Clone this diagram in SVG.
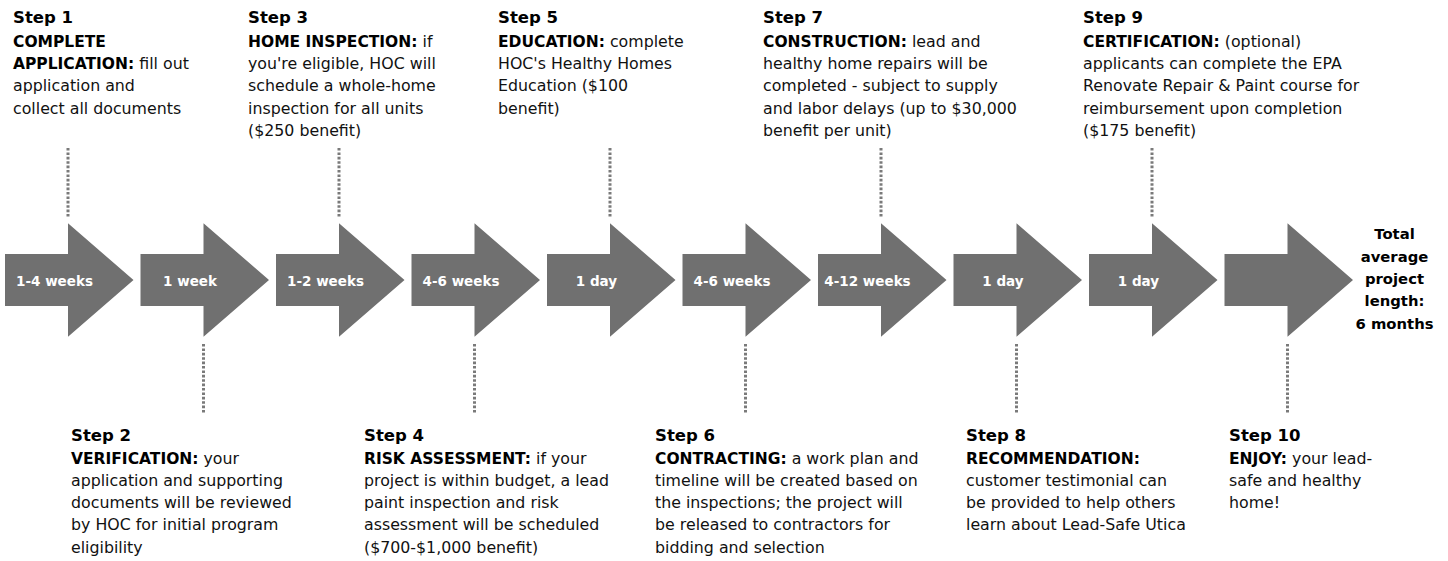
<svg xmlns="http://www.w3.org/2000/svg" width="1448" height="561" viewBox="0 0 1448 561">
<style>
.bg{fill:#ffffff}
.arr{fill:#707070}
.lbl{font-family:"DejaVu Sans",sans-serif;font-weight:bold;font-size:13.5px;fill:#ffffff;text-anchor:middle}
.tot{font-family:"DejaVu Sans",sans-serif;font-weight:bold;font-size:14.8px;fill:#000000;text-anchor:middle}
.ttl{font-family:"DejaVu Sans",sans-serif;font-weight:bold;font-size:16.5px;fill:#000000}
.txt{font-family:"DejaVu Sans",sans-serif;font-size:15.8px;fill:#111111}
.b{font-weight:bold;font-size:15.5px;fill:#000000}
.dot{stroke:#7a7a7a;stroke-width:3;stroke-dasharray:2.6 1.8;fill:none}
</style>
<rect class="bg" x="0" y="0" width="1448" height="561"/>
<g id="connectors">
<line class="dot" x1="68" y1="148" x2="68" y2="218"/>
<line class="dot" x1="339" y1="148" x2="339" y2="218"/>
<line class="dot" x1="610" y1="148" x2="610" y2="218"/>
<line class="dot" x1="881" y1="148" x2="881" y2="218"/>
<line class="dot" x1="1152" y1="148" x2="1152" y2="218"/>
<line class="dot" x1="203.5" y1="344" x2="203.5" y2="413"/>
<line class="dot" x1="474.5" y1="344" x2="474.5" y2="413"/>
<line class="dot" x1="745.5" y1="344" x2="745.5" y2="413"/>
<line class="dot" x1="1016.5" y1="344" x2="1016.5" y2="413"/>
<line class="dot" x1="1287.5" y1="344" x2="1287.5" y2="413"/>
</g>
<g id="arrow1"><path class="arr" d="M5,254 H68 V223.3 L133.5,280 L68,336.7 V306 H5 Z"/><text class="lbl" x="54.5" y="285.5">1-4 weeks</text></g>
<g id="arrow2"><path class="arr" d="M140.5,254 H203.5 V223.3 L269,280 L203.5,336.7 V306 H140.5 Z"/><text class="lbl" x="190" y="285.5">1 week</text></g>
<g id="arrow3"><path class="arr" d="M276,254 H339 V223.3 L404.5,280 L339,336.7 V306 H276 Z"/><text class="lbl" x="325.5" y="285.5">1-2 weeks</text></g>
<g id="arrow4"><path class="arr" d="M411.5,254 H474.5 V223.3 L540,280 L474.5,336.7 V306 H411.5 Z"/><text class="lbl" x="461" y="285.5">4-6 weeks</text></g>
<g id="arrow5"><path class="arr" d="M547,254 H610 V223.3 L675.5,280 L610,336.7 V306 H547 Z"/><text class="lbl" x="596.5" y="285.5">1 day</text></g>
<g id="arrow6"><path class="arr" d="M682.5,254 H745.5 V223.3 L811,280 L745.5,336.7 V306 H682.5 Z"/><text class="lbl" x="732" y="285.5">4-6 weeks</text></g>
<g id="arrow7"><path class="arr" d="M818,254 H881 V223.3 L946.5,280 L881,336.7 V306 H818 Z"/><text class="lbl" x="867.5" y="285.5">4-12 weeks</text></g>
<g id="arrow8"><path class="arr" d="M953.5,254 H1016.5 V223.3 L1082,280 L1016.5,336.7 V306 H953.5 Z"/><text class="lbl" x="1003" y="285.5">1 day</text></g>
<g id="arrow9"><path class="arr" d="M1089,254 H1152 V223.3 L1217.5,280 L1152,336.7 V306 H1089 Z"/><text class="lbl" x="1138.5" y="285.5">1 day</text></g>
<g id="arrow10"><path class="arr" d="M1224.5,254 H1287.5 V223.3 L1353,280 L1287.5,336.7 V306 H1224.5 Z"/></g>
<g id="total">
<text class="tot" x="1394.5" y="239">Total</text>
<text class="tot" x="1394.5" y="261.5">average</text>
<text class="tot" x="1394.5" y="284">project</text>
<text class="tot" x="1394.5" y="306">length:</text>
<text class="tot" x="1394.5" y="328.5">6 months</text>
</g>
<g id="step1">
<text class="ttl" x="13" y="23">Step 1</text>
<text class="txt" x="13" y="46.5"><tspan class="b">COMPLETE</tspan></text>
<text class="txt" x="13" y="69"><tspan class="b">APPLICATION:</tspan> fill out</text>
<text class="txt" x="13" y="91.3">application and</text>
<text class="txt" x="13" y="113.6">collect all documents</text>
</g>
<g id="step3">
<text class="ttl" x="248" y="23">Step 3</text>
<text class="txt" x="248" y="46.5"><tspan class="b">HOME INSPECTION:</tspan> if</text>
<text class="txt" x="248" y="69">you're eligible, HOC will</text>
<text class="txt" x="248" y="91.3">schedule a whole-home</text>
<text class="txt" x="248" y="113.6">inspection for all units</text>
<text class="txt" x="248" y="135.9">($250 benefit)</text>
</g>
<g id="step5">
<text class="ttl" x="498" y="23">Step 5</text>
<text class="txt" x="498" y="46.5"><tspan class="b">EDUCATION:</tspan> complete</text>
<text class="txt" x="498" y="69">HOC's Healthy Homes</text>
<text class="txt" x="498" y="91.3">Education ($100</text>
<text class="txt" x="498" y="113.6">benefit)</text>
</g>
<g id="step7">
<text class="ttl" x="763" y="23">Step 7</text>
<text class="txt" x="763" y="46.5"><tspan class="b">CONSTRUCTION:</tspan> lead and</text>
<text class="txt" x="763" y="69">healthy home repairs will be</text>
<text class="txt" x="763" y="91.3">completed - subject to supply</text>
<text class="txt" x="763" y="113.6">and labor delays (up to $30,000</text>
<text class="txt" x="763" y="135.9">benefit per unit)</text>
</g>
<g id="step9">
<text class="ttl" x="1083" y="23">Step 9</text>
<text class="txt" x="1083" y="46.5"><tspan class="b">CERTIFICATION:</tspan> (optional)</text>
<text class="txt" x="1083" y="69">applicants can complete the EPA</text>
<text class="txt" x="1083" y="91.3">Renovate Repair &amp; Paint course for</text>
<text class="txt" x="1083" y="113.6">reimbursement upon completion</text>
<text class="txt" x="1083" y="135.9">($175 benefit)</text>
</g>
<g id="step2">
<text class="ttl" x="71" y="441">Step 2</text>
<text class="txt" x="71" y="463.5"><tspan class="b">VERIFICATION:</tspan> your</text>
<text class="txt" x="71" y="485.8">application and supporting</text>
<text class="txt" x="71" y="508.1">documents will be reviewed</text>
<text class="txt" x="71" y="530.4">by HOC for initial program</text>
<text class="txt" x="71" y="552.7">eligibility</text>
</g>
<g id="step4">
<text class="ttl" x="364" y="441">Step 4</text>
<text class="txt" x="364" y="463.5"><tspan class="b">RISK ASSESSMENT:</tspan> if your</text>
<text class="txt" x="364" y="485.8">project is within budget, a lead</text>
<text class="txt" x="364" y="508.1">paint inspection and risk</text>
<text class="txt" x="364" y="530.4">assessment will be scheduled</text>
<text class="txt" x="364" y="552.7">($700-$1,000 benefit)</text>
</g>
<g id="step6">
<text class="ttl" x="655" y="441">Step 6</text>
<text class="txt" x="655" y="463.5"><tspan class="b">CONTRACTING:</tspan> a work plan and</text>
<text class="txt" x="655" y="485.8">timeline will be created based on</text>
<text class="txt" x="655" y="508.1">the inspections; the project will</text>
<text class="txt" x="655" y="530.4">be released to contractors for</text>
<text class="txt" x="655" y="552.7">bidding and selection</text>
</g>
<g id="step8">
<text class="ttl" x="966" y="441">Step 8</text>
<text class="txt" x="966" y="463.5"><tspan class="b">RECOMMENDATION:</tspan></text>
<text class="txt" x="966" y="485.8">customer testimonial can</text>
<text class="txt" x="966" y="508.1">be provided to help others</text>
<text class="txt" x="966" y="530.4">learn about Lead-Safe Utica</text>
</g>
<g id="step10">
<text class="ttl" x="1229" y="441">Step 10</text>
<text class="txt" x="1229" y="463.5"><tspan class="b">ENJOY:</tspan> your lead-</text>
<text class="txt" x="1229" y="485.8">safe and healthy</text>
<text class="txt" x="1229" y="508.1">home!</text>
</g>
</svg>
